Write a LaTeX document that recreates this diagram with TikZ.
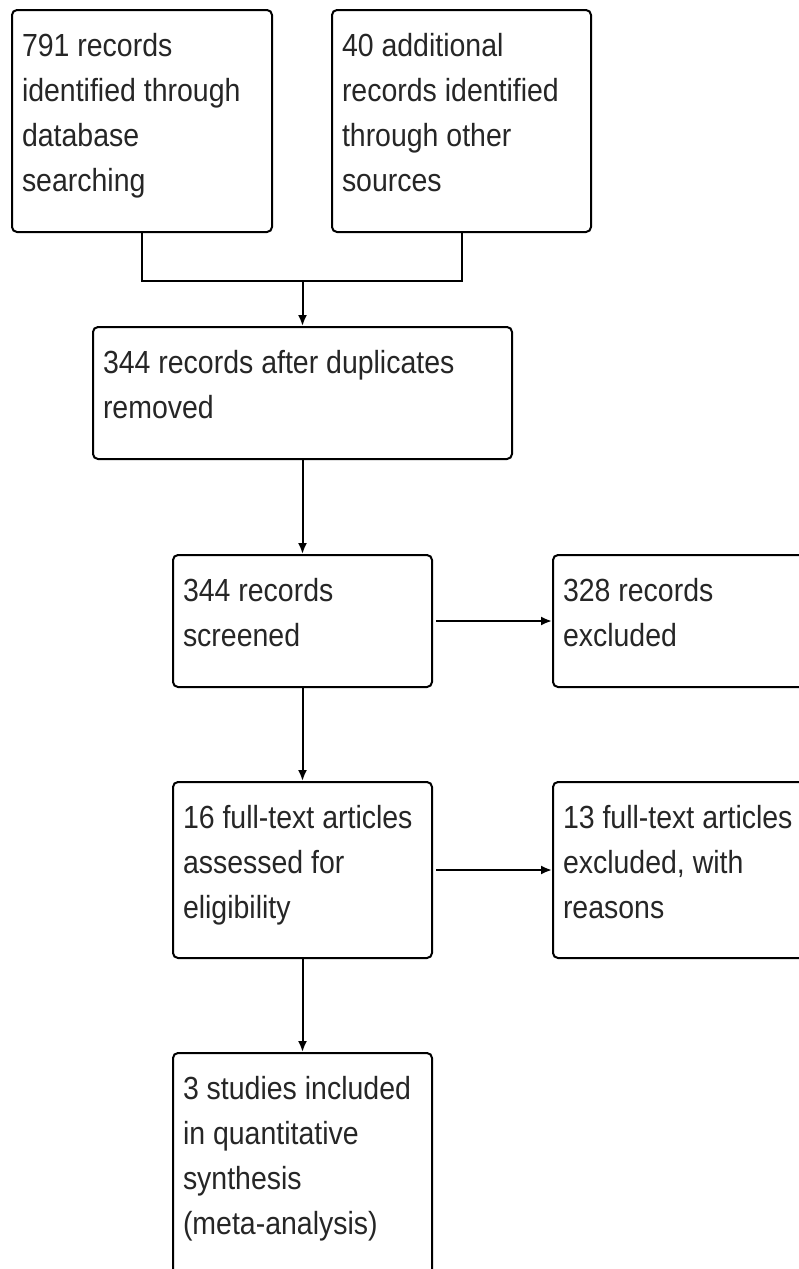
\documentclass[tikz,border=0pt]{standalone}
\usepackage{fontspec}
\setmainfont{Liberation Sans}[FakeStretch=0.89]
\usepackage{tikz}
\usetikzlibrary{arrows.meta}
\usetikzlibrary{positioning}
\newcommand{\flowtext}[3]{\parbox[t][#1][t]{#2}{\fontsize{32pt}{45pt}\selectfont\rule{0pt}{36pt}#3}}
\tikzset{
    flowbox/.style={draw=black, line width=2pt, rounded corners=5pt,
        inner sep=10pt, align=left, text=black!85, anchor=center},
    flowline/.style={draw=black, line width=2pt},
    flowarrow/.style={draw=black, line width=2pt,
        -{Latex[length=11pt,width=9pt]}},
}
\begin{document}
\begin{tikzpicture}[x=1pt, y=-1pt]
	\useasboundingbox (0,0) rectangle (799,1269);
	% identification
	\node[flowbox] (dbrec) at (142,121) {\flowtext{202pt}{240pt}{791 records\\identified through\\database\\searching}};
	\node[flowbox] (otherrec) at (461.5,121) {\flowtext{202pt}{239pt}{40 additional\\records identified\\through other\\sources}};
	\coordinate (join) at (302.5,281);
	% screening
	\node[flowbox] (dedup) at (302.5,393) {\flowtext{112pt}{399pt}{344 records after duplicates\\removed}};
	\node[flowbox] (screened) at (302.5,621) {\flowtext{112pt}{239pt}{344 records\\screened}};
	\node[flowbox] (excluded) at (682.5,621) {\flowtext{112pt}{239pt}{328 records\\excluded}};
	% eligibility
	\node[flowbox] (fulltext) at (302.5,870) {\flowtext{156pt}{239pt}{16 full-text articles\\assessed for\\eligibility}};
	\node[flowbox] (ftexcl) at (682.5,870) {\flowtext{156pt}{239pt}{13 full-text articles\\excluded, with\\reasons}};
	% included
	\node[flowbox] (included) at (302.5,1186) {\flowtext{246pt}{239pt}{3 studies included\\in quantitative\\synthesis\\(meta-analysis)}};

	\draw[flowline] (dbrec.south) |- (join) -| (otherrec.south);
	\draw[flowarrow] (join) -- (dedup.north);
	\draw[flowarrow] (dedup.south) -- (screened.north);
	\draw[flowarrow, shorten <=3pt] (screened.east) -- (excluded.west);
	\draw[flowarrow] (screened.south) -- (fulltext.north);
	\draw[flowarrow, shorten <=3pt] (fulltext.east) -- (ftexcl.west);
	\draw[flowarrow] (fulltext.south) -- (included.north);
\end{tikzpicture}
\end{document}
